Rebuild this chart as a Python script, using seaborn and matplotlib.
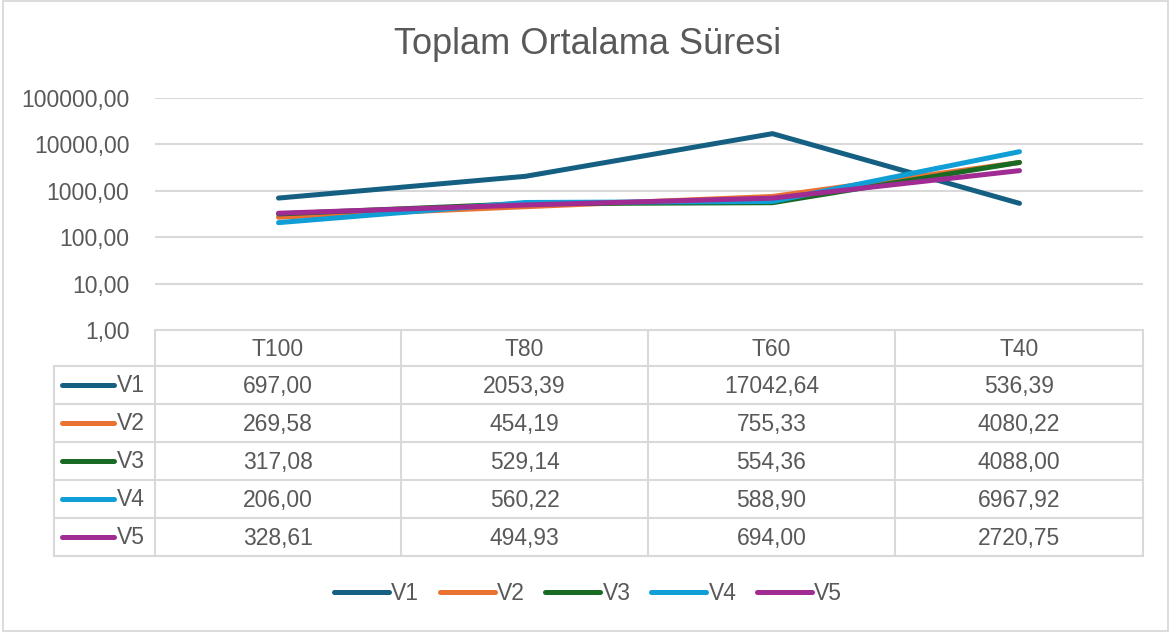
import pandas as pd
import numpy as np
import seaborn as sns
import matplotlib.pyplot as plt
from matplotlib.lines import Line2D
from matplotlib.patches import Rectangle
from matplotlib.ticker import FixedLocator, FuncFormatter, NullLocator

# Data
categories = ['T100', 'T80', 'T60', 'T40']
series_names = ['V1', 'V2', 'V3', 'V4', 'V5']
v1 = [697.00, 2053.39, 17042.64, 536.39]
v2 = [269.58, 454.19, 755.33, 4080.22]
v3 = [317.08, 529.14, 554.36, 4088.00]
v4 = [206.00, 560.22, 588.90, 6967.92]
v5 = [328.61, 494.93, 694.00, 2720.75]
colors = ['#156082', '#E97132', '#196B24', '#0F9ED5', '#A02B93']
y_ticks = [1, 10, 100, 1000, 10000, 100000]

values = [v1, v2, v3, v4, v5]
df = pd.DataFrame({
    'kategori': categories * len(series_names),
    'seri': np.repeat(series_names, len(categories)),
    'deger': np.concatenate(values),
})
palette = dict(zip(series_names, colors))

def tr_num(x, pos=None):
    return f'{x:.2f}'.replace('.', ',')

sns.set_style('white')
plt.rcParams['font.family'] = ['Liberation Sans', 'DejaVu Sans']
text_col = '#595959'
grid_col = '#D9D9D9'
fs = 16.5

W, H = 1176, 635
fig = plt.figure(figsize=(W / 100, H / 100), dpi=100)

def fx(px):
    return px / W

def fy(py):
    return 1 - py / H

# Outer frame
fig.patches.append(Rectangle((fx(3), fy(631)), fx(1168) - fx(3), fy(1) - fy(631),
                             transform=fig.transFigure, fill=False,
                             edgecolor=grid_col, linewidth=1.3))

# Line chart
ax = fig.add_axes([fx(155), fy(330), fx(1143) - fx(155), fy(98) - fy(330)])
sns.lineplot(data=df, x='kategori', y='deger', hue='seri', palette=palette,
             linewidth=3.6, ax=ax, legend=False, sort=False)
for ln in ax.get_lines():
    ln.set_solid_capstyle('round')
    ln.set_solid_joinstyle('round')
ax.set_yscale('log')
ax.set_ylim(1, 100000)
ax.set_xlim(-0.5, len(categories) - 0.5)
ax.yaxis.set_major_locator(FixedLocator(y_ticks))
ax.yaxis.set_minor_locator(NullLocator())
ax.yaxis.set_major_formatter(FuncFormatter(tr_num))
ax.grid(axis='y', color=grid_col, linewidth=1.5)
ax.set_axisbelow(True)
ax.tick_params(axis='y', length=0, pad=18.5, labelsize=fs, labelcolor=text_col)
ax.set_xticks([])
ax.set_xlabel('')
ax.set_ylabel('')
for s in ax.spines.values():
    s.set_visible(False)

fig.text(0.5, fy(44), 'Toplam Ortalama Süresi', ha='center', va='center',
         fontsize=26, color=text_col)

# Data table
col_edges = [155, 401, 648, 895, 1143]
row_edges = [330, 366, 404, 442, 480, 518, 556]
tab = fig.add_axes([0, 0, 1, 1], zorder=-1)
tab.set_xlim(0, W)
tab.set_ylim(H, 0)
tab.axis('off')
lw = 1.5
# header row
tab.plot([155, 1143], [330, 330], color=grid_col, lw=lw)
for x in col_edges:
    tab.plot([x, x], [330, 556], color=grid_col, lw=lw)
for y in row_edges[1:]:
    tab.plot([54, 1143], [y, y], color=grid_col, lw=lw)
tab.plot([54, 54], [366, 556], color=grid_col, lw=lw)
for j, cat in enumerate(categories):
    cx = (col_edges[j] + col_edges[j + 1]) / 2
    tab.text(cx, (row_edges[0] + row_edges[1]) / 2 + 1, cat, ha='center', va='center',
             fontsize=fs, color=text_col)
for i, name in enumerate(series_names):
    cy = (row_edges[i + 1] + row_edges[i + 2]) / 2
    tab.plot([62, 114], [cy, cy], color=colors[i], lw=3.6, solid_capstyle='round')
    tab.text(117, cy + 1, name, ha='left', va='center', fontsize=fs, color=text_col)
    for j in range(len(categories)):
        cx = (col_edges[j] + col_edges[j + 1]) / 2
        tab.text(cx, cy + 1, tr_num(values[i][j]), ha='center', va='center',
                 fontsize=fs, color=text_col)

# Bottom legend
handles = [Line2D([0], [0], color=c, lw=3.6, solid_capstyle='round') for c in colors]
fig.legend(handles, series_names, loc='center', bbox_to_anchor=(0.5, fy(594)),
           ncol=5, frameon=False, fontsize=fs, labelcolor=text_col,
           handlelength=2.4, handletextpad=0.1, columnspacing=0.9)

fig.savefig('out.png', dpi=100)
